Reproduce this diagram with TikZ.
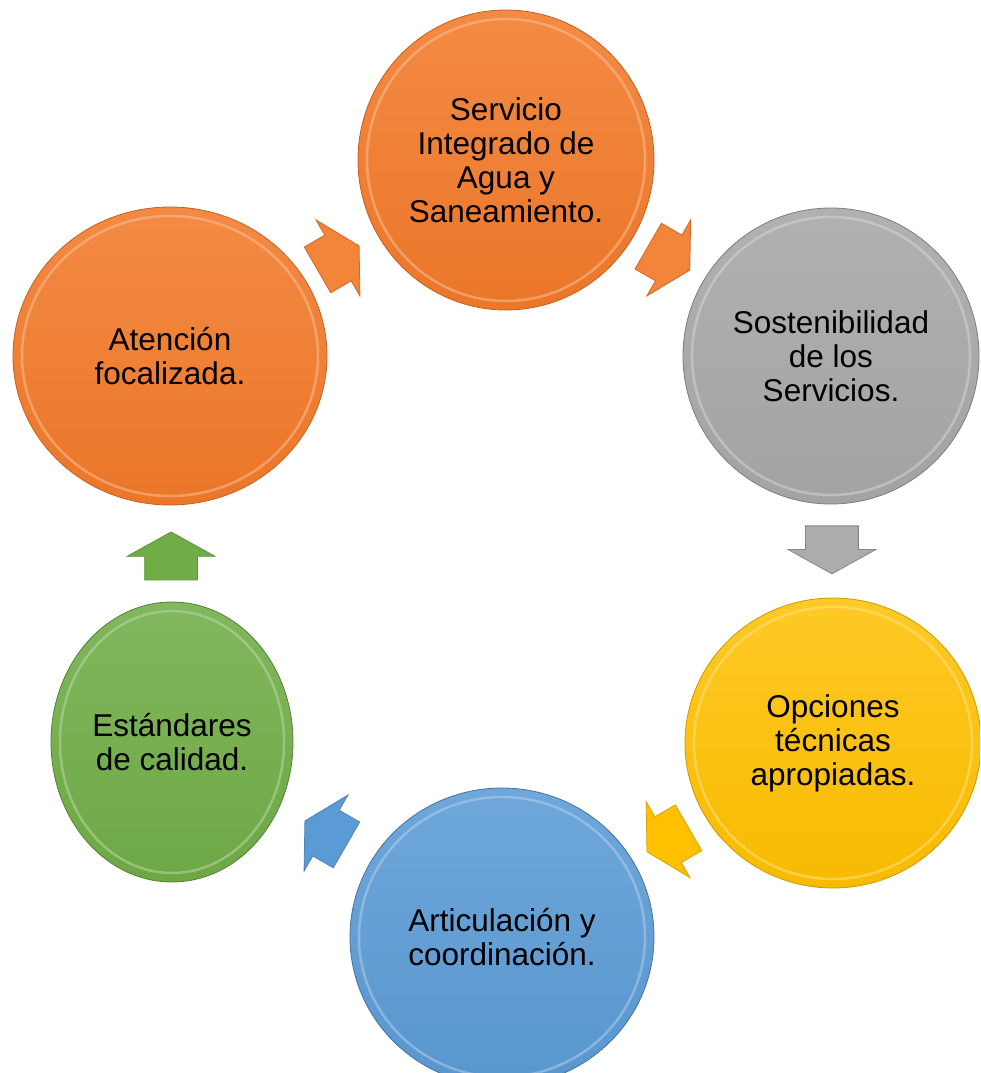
\documentclass[tikz,border=0pt]{standalone}
\usepackage{fontspec}
\setmainfont{Liberation Sans}
\usepackage{tikz}
\usetikzlibrary{shapes.geometric,shapes.arrows,calc}

\definecolor{naranja}{HTML}{F27A2A}
\definecolor{gris}{HTML}{A8A8A8}
\definecolor{amarillo}{HTML}{FFC000}
\definecolor{azul}{HTML}{5B9BD5}
\definecolor{verde}{HTML}{70AD47}

\begin{document}
\begin{tikzpicture}[x=1pt,y=1pt,yscale=-1,xscale=1,
  ball/.style={ellipse, inner sep=0pt, align=center, text=black, line width=0.8pt,
    font=\fontsize{31.5}{34}\selectfont},
  rim/.style={line width=2.5pt, opacity=0.5},
  flecha/.style={single arrow, inner xsep=0pt, inner ysep=26pt, minimum height=48pt,
    single arrow head extend=17.5pt, single arrow tip angle=122, line width=0.8pt}]
\clip (0,0) rectangle (980,1073);

%Shape: Ellipse [id:servicio]
\node[ball, top color=naranja!88!white, bottom color=naranja!97!black, draw=naranja!80!black,
  minimum width=296pt, minimum height=300pt] (servicio) at (506,160) {Servicio\\Integrado de\\Agua y\\Saneamiento.};
\draw[rim, naranja!45!white] (servicio.center) ellipse [x radius=139, y radius=141];

%Shape: Ellipse [id:sostenibilidad]
\node[ball, top color=gris!90!white, bottom color=gris!97!black, draw=gris!75!black,
  minimum width=296pt, minimum height=296pt] (sostenibilidad) at (831,356) {Sostenibilidad\\de los\\Servicios.};
\draw[rim, gris!45!white] (sostenibilidad.center) ellipse [x radius=139, y radius=139];

%Shape: Ellipse [id:opciones]
\node[ball, top color=amarillo!85!white, bottom color=amarillo!97!black, draw=amarillo!80!black,
  minimum width=296pt, minimum height=290pt] (opciones) at (833,743) {Opciones\\técnicas\\apropiadas.};
\draw[rim, amarillo!45!white] (opciones.center) ellipse [x radius=139, y radius=136];

%Shape: Ellipse [id:articulacion]
\node[ball, top color=azul!88!white, bottom color=azul!97!black, draw=azul!75!black,
  minimum width=304pt, minimum height=298pt] (articulacion) at (502,937) {Articulación y\\coordinación.};
\draw[rim, azul!45!white] (articulacion.center) ellipse [x radius=143, y radius=140];

%Shape: Ellipse [id:estandares]
\node[ball, top color=verde!88!white, bottom color=verde!97!black, draw=verde!75!black,
  minimum width=242pt, minimum height=280pt] (estandares) at (172,742) {Estándares\\de calidad.};
\draw[rim, verde!45!white] (estandares.center) ellipse [x radius=112, y radius=131];

%Shape: Ellipse [id:atencion]
\node[ball, top color=naranja!88!white, bottom color=naranja!97!black, draw=naranja!80!black,
  minimum width=314pt, minimum height=298pt] (atencion) at (170,356) {Atención\\focalizada.};
\draw[rim, naranja!45!white] (atencion.center) ellipse [x radius=148, y radius=140];

%Block Arrows
\node[flecha, fill=naranja!92!white, draw=naranja!85!black, rotate=30] (f1) at ($(atencion)!0.482!(servicio)$) {};
\node[flecha, fill=naranja!92!white, draw=naranja!85!black, rotate=-30] (f2) at ($(servicio)!0.482!(sostenibilidad)$) {};
\node[flecha, fill=gris!95!white, draw=gris!80!black, rotate=-90] (f3) at ($(sostenibilidad)!0.482!(opciones)$) {};
\node[flecha, fill=amarillo, draw=amarillo!85!black, rotate=-150] (f4) at ($(opciones)!0.48!(articulacion)$) {};
\node[flecha, fill=azul, draw=azul!85!black, rotate=150] (f5) at ($(articulacion)!0.515!(estandares)$) {};
\node[flecha, fill=verde, draw=verde!85!black, rotate=90] (f6) at ($(estandares)!0.463!(atencion)$) {};

\end{tikzpicture}
\end{document}
